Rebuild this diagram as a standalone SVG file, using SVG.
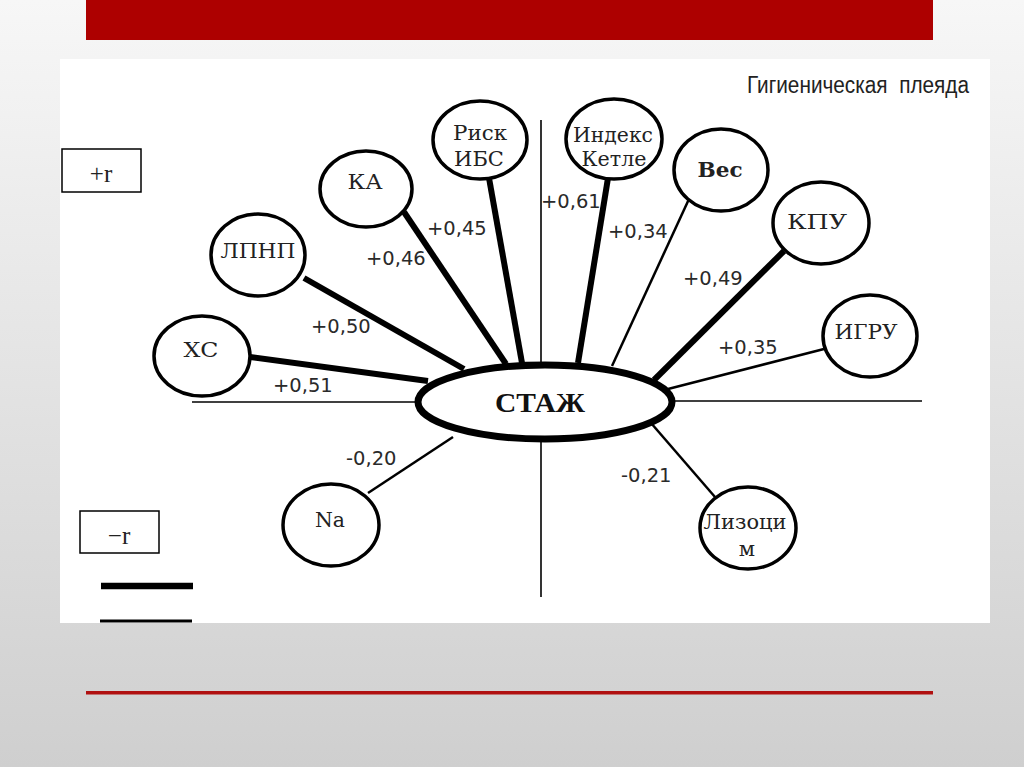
<svg xmlns="http://www.w3.org/2000/svg" width="1024" height="767" viewBox="0 0 1024 767">
<defs>
<linearGradient id="bg" x1="0" y1="0" x2="0" y2="1">
<stop offset="0" stop-color="#f7f7f7"/>
<stop offset="1" stop-color="#cfcfcf"/>
</linearGradient>
<style>
.node ellipse{fill:#fff;stroke:#000;stroke-width:3.5}
.nt{font-family:"DejaVu Serif","Liberation Serif",serif;font-size:21px;fill:#222;text-anchor:middle}
.lbl{font-family:"DejaVu Sans","Liberation Sans",sans-serif;font-size:19.5px;fill:#2a2a2a}
.thick{stroke:#000;stroke-width:6;stroke-linecap:butt}
.thin{stroke:#000;stroke-width:2.5}
.axis{stroke:#000;stroke-width:1.6}
.box{fill:#fff;stroke:#000;stroke-width:1.5}
</style>
</defs>
<rect x="0" y="0" width="1024" height="767" fill="url(#bg)"/>
<rect x="86" y="0" width="847" height="40" fill="#ad0000"/>
<rect x="60" y="59" width="930" height="564" fill="#fff"/>
<rect x="86" y="691" width="847" height="3.5" fill="#b01010"/>

<text x="747" y="93" font-family="Liberation Sans Narrow, Liberation Sans, sans-serif" font-size="23" fill="#222" textLength="222" lengthAdjust="spacingAndGlyphs">Гигиеническая&#160;&#160;плеяда</text>

<g id="axes">
<line class="axis" x1="541" y1="120" x2="541" y2="597"/>
<line class="axis" x1="192" y1="402" x2="420" y2="402"/>
<line class="axis" x1="670" y1="401" x2="922" y2="401"/>
</g>

<g id="connectors">
<line class="thick" x1="250" y1="357" x2="428" y2="381"/>
<line class="thick" x1="304" y1="278" x2="464" y2="369"/>
<line class="thick" x1="404" y1="212" x2="506" y2="364"/>
<line class="thick" x1="489" y1="178" x2="522" y2="363"/>
<line class="thick" x1="608" y1="178" x2="578" y2="363"/>
<line class="thin" x1="689" y1="199" x2="612" y2="366"/>
<line class="thick" x1="784" y1="251" x2="654" y2="380"/>
<line class="thin" x1="824" y1="349" x2="668" y2="389"/>
<line class="thin" x1="368" y1="493" x2="453" y2="437"/>
<line class="thin" x1="651" y1="423" x2="715" y2="497"/>
</g>

<g id="labels">
<text class="lbl" x="273" y="392">+0,51</text>
<text class="lbl" x="311" y="333">+0,50</text>
<text class="lbl" x="366" y="265">+0,46</text>
<text class="lbl" x="427" y="235">+0,45</text>
<text class="lbl" x="541" y="208">+0,61</text>
<text class="lbl" x="608" y="238">+0,34</text>
<text class="lbl" x="683" y="285">+0,49</text>
<text class="lbl" x="718" y="354">+0,35</text>
<text class="lbl" x="346" y="465">-0,20</text>
<text class="lbl" x="621" y="482">-0,21</text>
</g>

<g id="n-stazh" class="node">
<ellipse cx="545" cy="402" rx="127" ry="37" style="stroke-width:7"/>
<text x="540" y="412" font-family="Liberation Serif, serif" font-weight="bold" font-size="27" fill="#111" text-anchor="middle" textLength="90" lengthAdjust="spacingAndGlyphs">СТАЖ</text>
</g>
<g id="n-hs" class="node">
<ellipse cx="202" cy="356" rx="48" ry="40"/>
<text class="nt" x="201" y="357" textLength="35" lengthAdjust="spacingAndGlyphs">ХС</text>
</g>
<g id="n-lpnp" class="node">
<ellipse cx="258" cy="255" rx="47" ry="41"/>
<text class="nt" x="258" y="258" textLength="75" lengthAdjust="spacingAndGlyphs">ЛПНП</text>
</g>
<g id="n-ka" class="node">
<ellipse cx="366" cy="189" rx="46" ry="38"/>
<text class="nt" x="365" y="189" textLength="35" lengthAdjust="spacingAndGlyphs">КА</text>
</g>
<g id="n-risk" class="node">
<ellipse cx="480" cy="140" rx="47" ry="39"/>
<text class="nt" x="480" y="140" textLength="54" lengthAdjust="spacingAndGlyphs">Риск</text>
<text class="nt" x="479" y="166">ИБС</text>
</g>
<g id="n-ketle" class="node">
<ellipse cx="614" cy="139" rx="48" ry="40"/>
<text class="nt" x="613" y="142" textLength="80" lengthAdjust="spacingAndGlyphs">Индекс</text>
<text class="nt" x="614" y="166" textLength="65" lengthAdjust="spacingAndGlyphs">Кетле</text>
</g>
<g id="n-ves" class="node">
<ellipse cx="721" cy="170" rx="47" ry="41"/>
<text class="nt" x="720" y="177" font-weight="bold" font-size="23" textLength="45" lengthAdjust="spacingAndGlyphs">Вес</text>
</g>
<g id="n-kpu" class="node">
<ellipse cx="821" cy="223" rx="48" ry="41"/>
<text class="nt" x="817" y="229" font-size="27" fill="#111" textLength="60" lengthAdjust="spacingAndGlyphs">КПУ</text>
</g>
<g id="n-igru" class="node">
<ellipse cx="870" cy="336" rx="47" ry="41"/>
<text class="nt" x="866" y="339" textLength="63" lengthAdjust="spacingAndGlyphs">ИГРУ</text>
</g>
<g id="n-na" class="node">
<ellipse cx="331" cy="525" rx="48" ry="41"/>
<text class="nt" x="330" y="527" textLength="30" lengthAdjust="spacingAndGlyphs">Na</text>
</g>
<g id="n-lizocim" class="node">
<ellipse cx="748" cy="528" rx="48" ry="41"/>
<text class="nt" x="745" y="529" textLength="83" lengthAdjust="spacingAndGlyphs">Лизоци</text>
<text class="nt" x="747" y="556">м</text>
</g>

<g id="legend">
<rect class="box" x="62" y="149" width="79" height="43"/>
<text x="101" y="182" font-family="Liberation Serif, serif" font-size="25" fill="#222" text-anchor="middle">+r</text>
<rect class="box" x="80" y="511" width="79" height="42"/>
<text x="119" y="544" font-family="Liberation Serif, serif" font-size="25" fill="#222" text-anchor="middle">−r</text>
<line x1="101" y1="586" x2="193" y2="586" stroke="#000" stroke-width="6.5"/>
<line x1="100" y1="621" x2="192" y2="621" stroke="#000" stroke-width="3"/>
</g>
</svg>
